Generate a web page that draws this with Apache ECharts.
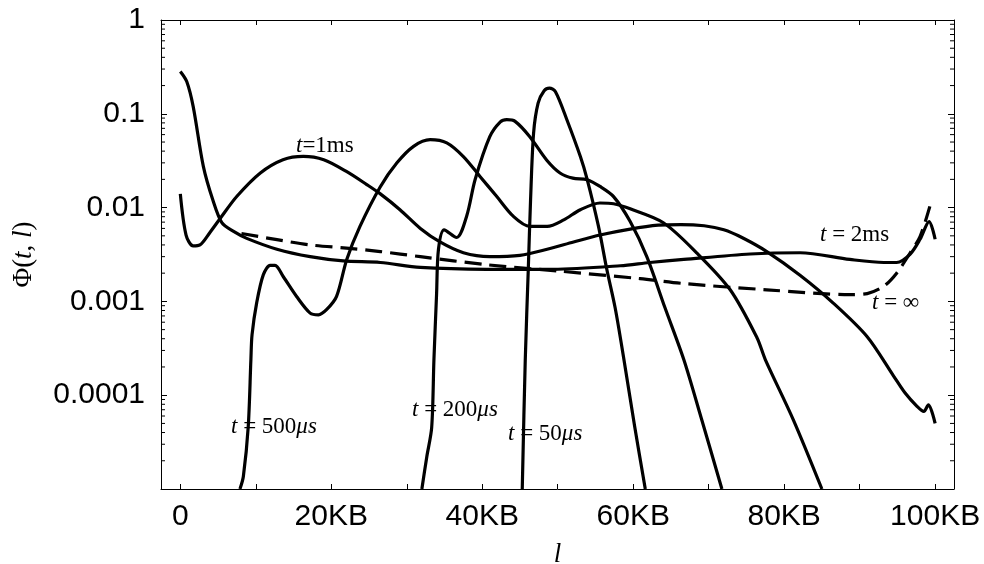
<!DOCTYPE html>
<html><head><meta charset="utf-8">
<script src="https://cdn.jsdelivr.net/npm/echarts@6/dist/echarts.min.js"></script>
<style>html,body{margin:0;padding:0;background:#fff}#c{width:984px;height:564px}</style>
</head><body><div id="c"></div>
<script>
// ---- axis structure ----
const xMin = -2.56, xMax = 102.5;
const yMin = 1e-5, yMax = 1;
const xTickValues = [0, 10, 20, 30, 40, 50, 60, 70, 80, 90, 100];
const xLabelValues = [0, 20, 40, 60, 80, 100];
const yMinorTicks = [
  2e-5, 3e-5, 4e-5, 5e-5, 6e-5, 7e-5, 8e-5, 9e-5,
  2e-4, 3e-4, 4e-4, 5e-4, 6e-4, 7e-4, 8e-4, 9e-4,
  2e-3, 3e-3, 4e-3, 5e-3, 6e-3, 7e-3, 8e-3, 9e-3,
  2e-2, 3e-2, 4e-2, 5e-2, 6e-2, 7e-2, 8e-2, 9e-2,
  0.2, 0.3, 0.4, 0.5, 0.6, 0.7, 0.8, 0.9
];

// ---- series values [l (KB), Phi] ----
const t50us = [[45.3,1e-5],[45.7,2.4e-4],[46.1,2.2e-3],[46.4,0.012],[46.8,0.062],[47.4,0.13],[48.2,0.176],[48.9,0.188],[49.7,0.172],[51.2,0.087],[53.0,0.035],[53.9,0.020],[55.4,0.0063],[56.5,0.0022],[57.6,8.6e-4],[58.7,2.6e-4],[60.2,4.6e-5],[61.6,1e-5]];
const t200us = [[32.0,1e-5],[32.65,2.2e-5],[33.3,4.5e-5],[33.6,2.4e-4],[33.95,1.2e-3],[34.2,0.0036],[34.95,0.0058],[36.6,0.0048],[37.95,0.0082],[39.05,0.0198],[41.0,0.057],[42.4,0.082],[43.25,0.0865],[44.35,0.083],[46.3,0.057],[48.55,0.032],[50.3,0.0234],[52.0,0.0206],[53.9,0.0198],[55.6,0.0168],[57.4,0.0131],[59.6,0.0071],[61.8,0.0030],[64.2,8.6e-4],[66.7,2.4e-4],[69.1,5.4e-5],[71.75,1e-5]];
const t500us = [[7.9,1e-5],[8.35,1.36e-5],[9.0,4.65e-5],[9.35,2.4e-4],[9.5,4.4e-4],[10.12,9.7e-4],[11.0,0.00193],[11.9,0.00242],[12.55,0.00242],[13.65,0.00183],[15.43,0.00112],[17.2,7.5e-4],[18.3,7.2e-4],[19.4,8.2e-4],[20.7,0.00113],[22.05,0.0028],[23.8,0.0063],[26.46,0.0165],[28.7,0.030],[30.9,0.045],[33.1,0.053],[35.3,0.049],[37.5,0.035],[39.7,0.0215],[41.9,0.0132],[44.1,0.0081],[46.3,0.0063],[48.6,0.0063],[50.8,0.0074],[53.0,0.0095],[55.6,0.0112],[57.4,0.0110],[59.6,0.0097],[64.0,0.0069],[68.4,0.0033],[72.85,0.00133],[76.4,4.1e-4],[77.5,2.4e-4],[81.2,5.5e-5],[85.0,1e-5]];
const t1ms = [[0,0.0140],[0.76,0.0051],[1.7,0.0039],[2.6,0.0040],[3.9,0.0054],[5.3,0.0077],[7.5,0.0132],[10.6,0.0234],[13.6,0.0324],[16.3,0.0352],[19.0,0.0324],[22.0,0.0243],[24.7,0.0176],[26.5,0.0140],[29.1,0.0095],[31.8,0.0060],[34.4,0.0043],[37.5,0.0033],[41.0,0.0030],[45.0,0.0031],[48.6,0.0036],[52.1,0.0043],[55.6,0.0051],[59.6,0.0059],[63.3,0.0065],[66.3,0.0066],[69.4,0.0064],[72.0,0.0058],[74.4,0.0048],[77.7,0.0034],[82.1,0.0019],[86.5,0.00096],[91.0,0.00042],[94.5,0.00016],[96.0,0.000106],[97.6,0.000076],[98.5,0.000067],[99.1,0.000079],[100,0.000050]];
const t2ms = [[0,0.283],[0.85,0.221],[1.7,0.12],[3.05,0.0275],[4.3,0.0121],[5.5,0.0069],[7.0,0.0056],[8.8,0.0047],[12.8,0.0036],[17.2,0.0030],[21.6,0.0027],[26.5,0.0026],[31.8,0.0023],[40.6,0.0022],[49.4,0.0022],[58.3,0.0024],[62.2,0.0026],[66.7,0.0028],[75.5,0.0032],[82.1,0.0033],[88.7,0.0028],[93.2,0.0026],[94.9,0.0026],[96.7,0.0032],[98.0,0.0046],[99.2,0.0071],[100,0.0046]];
const tInf = [[8.1,0.0053],[12.8,0.00455],[17.2,0.0040],[22.0,0.0037],[26.5,0.0034],[31.8,0.0030],[40.6,0.00246],[50.3,0.0021],[60.9,0.00175],[67.1,0.00154],[77.7,0.00133],[88.7,0.00118],[91.0,0.00121],[93.2,0.00145],[94.9,0.0020],[96.7,0.0033],[98.0,0.0049],[99.3,0.0103]];

const curveLabels = [
  {text: '{i|t}=1ms', x: 296, y: 146},
  {text: '{i|t} = 500{i|μs}', x: 231, y: 427},
  {text: '{i|t} = 200{i|μs}', x: 412, y: 410},
  {text: '{i|t} = 50{i|μs}', x: 508, y: 434},
  {text: '{i|t} = 2ms', x: 820, y: 235},
  {text: '{i|t} = ∞', x: 872, y: 303}
];

const serif = 'Liberation Serif';
const sans = 'Liberation Sans';
const LW = 3.2;

function lineSeries(name, data, dashed) {
  return {
    name, type: 'line', data, showSymbol: false, smooth: 0.3,
    xAxisIndex: 0, yAxisIndex: 0,
    lineStyle: {color: '#000', width: LW, type: dashed ? [17, 8] : 'solid', cap: 'butt', join: 'round'},
    itemStyle: {color: '#000'}, animation: false, z: 3
  };
}

const chart = echarts.init(document.getElementById('c'), null, {renderer: 'canvas'});
chart.setOption({
  animation: false,
  backgroundColor: '#fff',
  grid: {left: 161, right: 30, top: 20, bottom: 75, containLabel: false, outerBoundsMode: 'none'},
  xAxis: [{
    type: 'value', min: xMin, max: xMax, position: 'bottom',
    axisLine: {show: true, onZero: false, lineStyle: {color: '#000', width: 1}},
    axisTick: {show: true, inside: true, length: 5, customValues: xTickValues, lineStyle: {color: '#000'}},
    axisLabel: {show: true, customValues: xLabelValues, margin: 13, color: '#000', fontFamily: sans, fontSize: 30,
      formatter: v => v === 0 ? '0' : v + 'KB'},
    splitLine: {show: false},
    name: '{i|l}', nameLocation: 'middle', nameGap: 52,
    nameTextStyle: {color: '#000', fontFamily: serif, fontSize: 27, rich: {i: {fontStyle: 'italic', fontFamily: serif, fontSize: 27, color: '#000'}}}
  }, {
    type: 'value', min: xMin, max: xMax, position: 'top',
    axisLine: {show: true, onZero: false, lineStyle: {color: '#000', width: 1}},
    axisTick: {show: true, inside: true, length: 5, customValues: xTickValues, lineStyle: {color: '#000'}},
    axisLabel: {show: false}, splitLine: {show: false}
  }],
  yAxis: [{
    type: 'log', logBase: 10, min: yMin, max: yMax, position: 'left',
    axisLine: {show: true, onZero: false, lineStyle: {color: '#000', width: 1}},
    axisTick: {show: true, inside: true, length: 6, lineStyle: {color: '#000'}},
    axisLabel: {show: true, margin: 16, color: '#000', fontFamily: sans, fontSize: 30,
      formatter: v => v < 5e-5 ? '' : String(v)},
    splitLine: {show: false},
    name: 'Φ({i|t}, {i|l})', nameLocation: 'middle', nameGap: 124, nameRotate: 90,
    nameTextStyle: {color: '#000', fontFamily: serif, fontSize: 27, rich: {i: {fontStyle: 'italic', fontFamily: serif, fontSize: 27, color: '#000'}}}
  }, {
    type: 'log', logBase: 10, min: yMin, max: yMax, position: 'right',
    axisLine: {show: true, onZero: false, lineStyle: {color: '#000', width: 1}},
    axisTick: {show: true, inside: true, length: 6, lineStyle: {color: '#000'}},
    axisLabel: {show: false}, splitLine: {show: false}
  }],
  series: [
    lineSeries('t=50us', t50us),
    lineSeries('t=200us', t200us),
    lineSeries('t=500us', t500us),
    lineSeries('t=1ms', t1ms),
    lineSeries('t=2ms', t2ms),
    lineSeries('t=inf', tInf, true),
    {
      type: 'custom', name: 'minorTicks', xAxisIndex: 0, yAxisIndex: 0, silent: true, clip: false,
      data: yMinorTicks.map(v => [xMin, v]),
      renderItem: function (params, api) {
        const v = api.value(1);
        const pL = api.coord([xMin, v]);
        const pR = api.coord([xMax, v]);
        return {type: 'group', children: [
          {type: 'line', shape: {x1: pL[0], y1: pL[1], x2: pL[0] + 4, y2: pL[1]}, style: {stroke: '#000', lineWidth: 1}},
          {type: 'line', shape: {x1: pR[0], y1: pR[1], x2: pR[0] - 4, y2: pR[1]}, style: {stroke: '#000', lineWidth: 1}}
        ]};
      }
    }
  ],
  graphic: curveLabels.map(l => ({
    type: 'text', x: l.x, y: l.y, z: 10,
    style: {text: l.text, fill: '#000', fontFamily: serif, fontSize: 23, align: 'left', verticalAlign: 'middle',
      rich: {i: {fontStyle: 'italic', fontFamily: serif, fontSize: 23, fill: '#000'}}}
  }))
});
</script></body></html>
